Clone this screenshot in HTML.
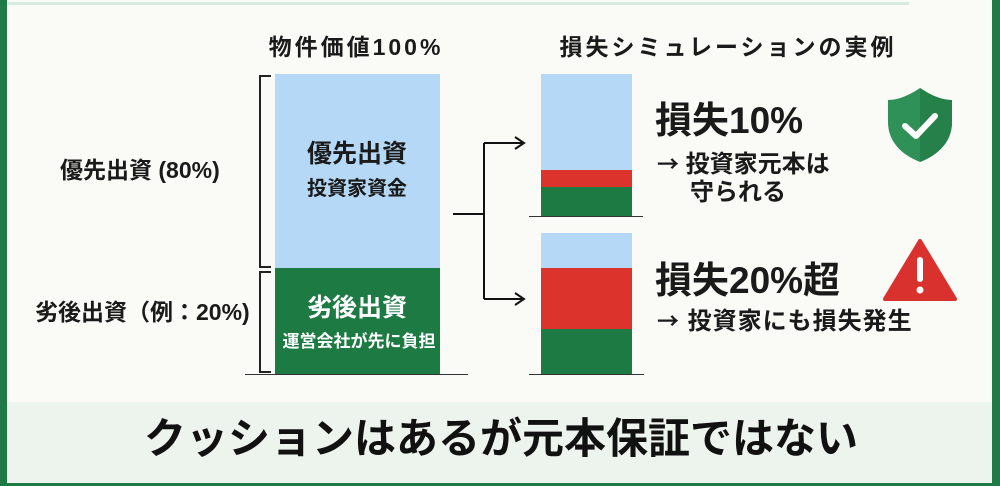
<!DOCTYPE html>
<html><head><meta charset="utf-8"><style>
body{margin:0;width:1000px;height:486px;overflow:hidden;background:#fafaf7;position:relative;font-family:"Liberation Sans","Noto Sans CJK JP",sans-serif;font-weight:bold;color:#1a1a1a}
.a{position:absolute;white-space:nowrap;line-height:1.2}
.c{transform:translateX(-50%)}
.ar{font-family:"Noto Sans CJK JP",sans-serif;font-size:22px}
</style></head><body>
<div class="a" style="left:0;top:0;width:7px;height:486px;background:#1f7a45"></div>
<div class="a" style="left:992px;top:0;width:8px;height:486px;background:#1f7a45"></div>
<div class="a" style="left:0;top:483px;width:1000px;height:3px;background:#1f7a45"></div>
<div class="a" style="left:7px;top:2px;width:902px;height:3px;background:#d8ebdf"></div>
<div class="a" style="left:7px;top:402px;width:985px;height:81px;background:#edf4ee"></div>
<div class="a c" style="left:501px;top:414px;font-size:42px;color:#111">クッションはあるが元本保証ではない</div>

<div class="a c" style="left:356px;top:34px;font-size:23px;letter-spacing:3px">物件価値100%</div>
<div class="a c" style="left:728px;top:34px;font-size:23px;letter-spacing:3px">損失シミュレーションの実例</div>

<div class="a" style="left:275px;top:74px;width:165px;height:194px;background:#b4d8f5"></div>
<div class="a" style="left:275px;top:268px;width:165px;height:106px;background:#1c7a42"></div>
<div class="a" style="left:245px;top:374px;width:223px;height:1px;background:#333"></div>
<div class="a" style="left:259px;top:75px;width:10px;height:189px;border:2px solid #222;border-right:none"></div>
<div class="a" style="left:259px;top:271px;width:10px;height:98px;border:2px solid #222;border-right:none"></div>
<div class="a c" style="left:357px;top:139px;font-size:25px">優先出資</div>
<div class="a c" style="left:357px;top:177px;font-size:20px">投資家資金</div>
<div class="a c" style="left:357px;top:293px;font-size:25px;color:#fff">劣後出資</div>
<div class="a c" style="left:359px;top:332px;font-size:17px;color:#fff">運営会社が先に負担</div>
<div class="a" style="left:60px;top:157px;font-size:23px">優先出資 (80%)</div>
<div class="a" style="left:35px;top:299px;font-size:23px">劣後出資（例：20%)</div>

<svg class="a" style="left:0;top:0" width="1000" height="486">
<g stroke="#111" stroke-width="2" fill="none">
<path d="M453 214H484M484 143V299M484 143H522M484 299H522"/>
<path d="M515 137L524 143L515 149M515 293L524 299L515 305"/>
</g>
<path d="M920 88C905 98 895 100 888 100V122C888 142 902 155 920 162C938 155 952 142 952 122V100C945 100 935 98 920 88Z" fill="#2f9158"/>
<path d="M920 88C935 98 945 100 952 100V122C952 142 938 155 920 162Z" fill="#268049"/>
<path d="M905 126L916 136L935 116" stroke="#fff" stroke-width="6" fill="none" stroke-linecap="round" stroke-linejoin="round"/>
<path d="M920 241L955 299H885Z" fill="#d9312d" stroke="#d9312d" stroke-width="4" stroke-linejoin="round"/>
<rect x="917" y="257" width="6" height="25" rx="3" fill="#fff"/>
<circle cx="920" cy="290" r="3.5" fill="#fff"/>
</svg>

<div class="a" style="left:541px;top:74px;width:91px;height:96px;background:#b4d8f5"></div>
<div class="a" style="left:541px;top:170px;width:91px;height:17px;background:#dc332d"></div>
<div class="a" style="left:541px;top:187px;width:91px;height:29px;background:#1c7a42"></div>
<div class="a" style="left:529px;top:216px;width:114px;height:1px;background:#333"></div>
<div class="a" style="left:541px;top:233px;width:91px;height:35px;background:#b4d8f5"></div>
<div class="a" style="left:541px;top:268px;width:91px;height:61px;background:#dc332d"></div>
<div class="a" style="left:541px;top:329px;width:91px;height:45px;background:#1c7a42"></div>
<div class="a" style="left:529px;top:374px;width:115px;height:1px;background:#333"></div>

<div class="a" style="left:655px;top:99px;font-size:37px">損失10%</div>
<div class="a" style="left:657px;top:150px;font-size:24px"><span class="ar">→</span> 投資家元本は</div>
<div class="a" style="left:690px;top:179px;font-size:24px">守られる</div>
<div class="a" style="left:655px;top:259px;font-size:37px">損失20%超</div>
<div class="a" style="left:657px;top:307px;font-size:24px;letter-spacing:1px"><span class="ar">→</span> 投資家にも損失発生</div>
</body></html>
